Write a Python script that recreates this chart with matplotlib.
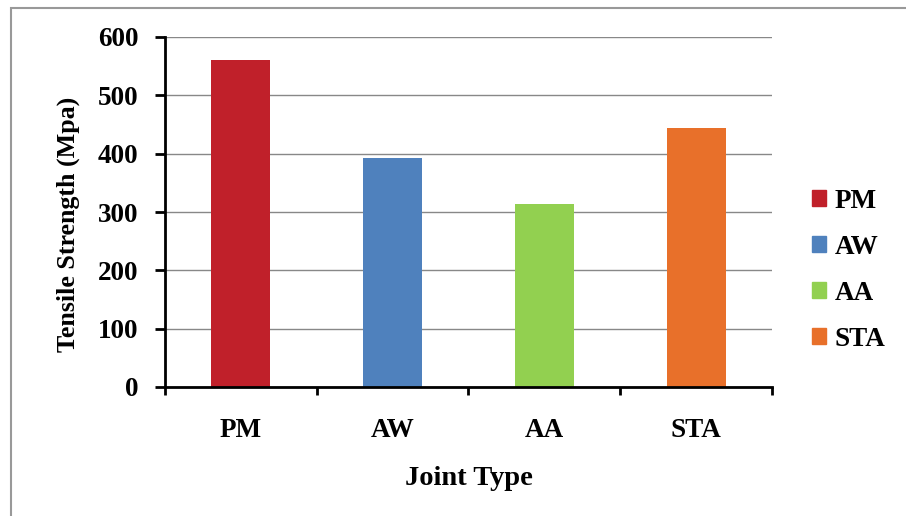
import matplotlib.pyplot as plt
from matplotlib.patches import Rectangle

joints = ['PM', 'AW', 'AA', 'STA']
strength = [561, 393, 314, 444]
colors = ['#C0202A', '#4F81BD', '#92D050', '#E8702A']

plt.rcParams['font.family'] = 'Liberation Serif'
plt.rcParams['font.weight'] = 'bold'

fig = plt.figure(figsize=(9.06, 5.16), dpi=100)
ax = fig.add_axes([165/906, 1 - 387/516, (772 - 165)/906, (387 - 37)/516])

x = range(len(joints))
bars = ax.bar(x, strength, width=0.39, color=colors, label=joints, zorder=3)

ax.set_xlim(-0.5, len(joints) - 0.5)
ax.set_ylim(0, 600)
ax.set_yticks(range(0, 601, 100))
ax.set_xticks(list(x))
ax.set_xticklabels(joints)
ax.set_xticks([i - 0.5 for i in range(len(joints) + 1)], minor=True)
ax.tick_params(axis='x', which='major', length=0, pad=22, labelsize=19.5)
ax.tick_params(axis='x', which='minor', length=6, width=2, direction='out')
ax.tick_params(axis='y', length=7, width=2, direction='out', labelsize=19.5, pad=12)

ax.grid(True, axis='y', color='#888888', linewidth=1, zorder=0)
for s in ['top', 'right']:
    ax.spines[s].set_visible(False)
for s in ['left', 'bottom']:
    ax.spines[s].set_linewidth(2)
    ax.spines[s].set_zorder(4)

ax.set_ylabel('Tensile Strength (Mpa)', fontsize=18.7, fontweight='bold', labelpad=13)
ax.yaxis.label.set_y(0.465)
ax.set_xlabel('Joint Type', fontsize=20.5, fontweight='bold', labelpad=17)

handles = [Rectangle((0, 0), 1, 1, color=c) for c in colors]
fig.legend(handles, joints, loc='upper left', bbox_to_anchor=(798/906, 1 - 175/516),
           frameon=False, fontsize=19.5, handlelength=0.55, handleheight=0.55,
           handletextpad=0.3, labelspacing=0.78, borderpad=0)

# outer chart frame
fig.patches.append(Rectangle((11/906, -0.05), 1.0, 1 - 8/516 + 0.05, transform=fig.transFigure,
                             fill=False, edgecolor='#999999', linewidth=1.5))

plt.savefig('out.png', dpi=100)
